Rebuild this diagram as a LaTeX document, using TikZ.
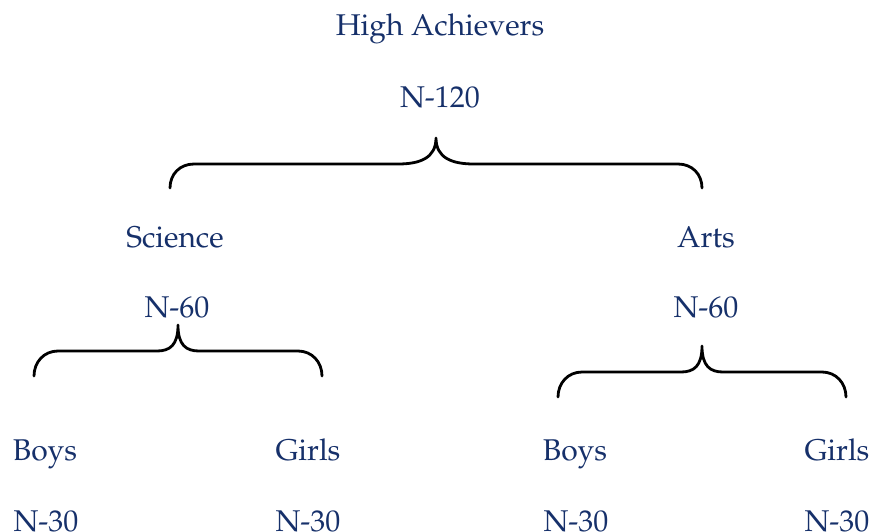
\documentclass[tikz,border=0pt]{standalone}
\usepackage[T1]{fontenc}
\usepackage{mathpazo}
\definecolor{navy}{HTML}{16306A}
\begin{document}
\begin{tikzpicture}[x=1pt,y=-1pt,
  lbl/.style={text=navy,font=\fontsize{30}{36}\selectfont,inner sep=0pt,anchor=base},
  brace/.style={draw=black,line width=2.8pt,line cap=round,line join=round}]
\useasboundingbox (0,0) rectangle (873,531);
% labels
\node[lbl] (top)   at (440,35)  {High Achievers};
\node[lbl] (n120)  at (440,107) {N-120};
\node[lbl] (sci)   at (175,247) {Science};
\node[lbl] (nsci)  at (177,317) {N-60};
\node[lbl] (arts)  at (706,247) {Arts};
\node[lbl] (narts) at (706,317) {N-60};
\node[lbl] (b1)  at (45,460)  {Boys};
\node[lbl] (nb1) at (46,531)  {N-30};
\node[lbl] (g1)  at (308,460) {Girls};
\node[lbl] (ng1) at (308,531) {N-30};
\node[lbl] (b2)  at (575,460) {Boys};
\node[lbl] (nb2) at (576,531) {N-30};
\node[lbl] (g2)  at (837,460) {Girls};
\node[lbl] (ng2) at (837,531) {N-30};
% braces
\draw[brace] (170,188) .. controls (170,174) and (180,164) .. (194,164) -- (398,164)
  .. controls (420,164) and (436,158) .. (436,138)
  .. controls (436,158) and (452,164) .. (474,164) -- (678,164)
  .. controls (692,164) and (702,174) .. (702,188);
\draw[brace] (34,376) .. controls (34,362) and (44,351) .. (58,351) -- (157,351)
  .. controls (170,351) and (178,345) .. (178,325)
  .. controls (178,345) and (186,351) .. (199,351) -- (298,351)
  .. controls (312,351) and (322,362) .. (322,376);
\draw[brace] (558,397) .. controls (558,383) and (568,372) .. (582,372) -- (681,372)
  .. controls (694,372) and (702,366) .. (702,346)
  .. controls (702,366) and (710,372) .. (723,372) -- (822,372)
  .. controls (836,372) and (846,383) .. (846,397);
\end{tikzpicture}
\end{document}
